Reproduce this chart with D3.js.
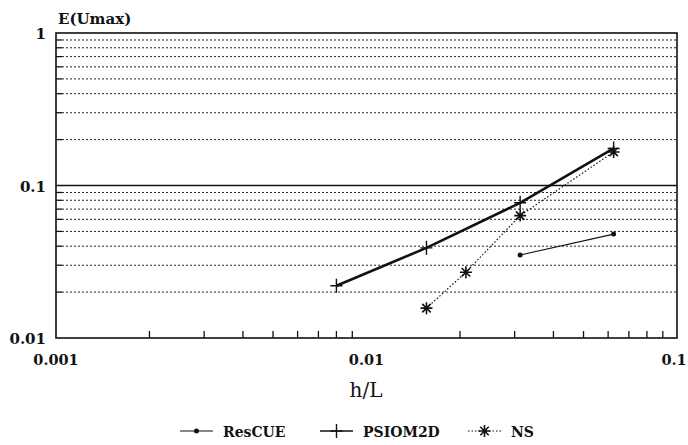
<!DOCTYPE html>
<html>
<head>
<meta charset="utf-8">
<script src="https://cdn.jsdelivr.net/npm/d3@7"></script>
<style>
  body { margin: 0; background: #fff; }
  text { font-family: "DejaVu Serif", "Liberation Serif", serif; font-weight: bold; fill: #111; }
</style>
</head>
<body>
<svg id="chart" width="688" height="445"></svg>
<script>
// values
var rescue_h = [0.03125, 0.0625];
var rescue_e = [0.035, 0.048];
var psiom_h = [0.008, 0.0156, 0.03125, 0.0625];
var psiom_e = [0.022, 0.039, 0.077, 0.175];
var ns_h = [0.0156, 0.0209, 0.03125, 0.0625];
var ns_e = [0.0157, 0.027, 0.0635, 0.166];
var x_ticks = [0.001, 0.01, 0.1];
var x_tick_labels = ["0.001", "0.01", "0.1"];
var y_ticks = [0.01, 0.1, 1];
var y_tick_labels = ["0.01", "0.1", "1"];

var svg = d3.select("#chart");
var plot_left = 56, plot_right = 677, plot_top = 33, plot_bottom = 338;

var x = d3.scaleLog().domain([0.001, 0.1]).range([plot_left, plot_right]);
var y = d3.scaleLog().domain([0.01, 1]).range([plot_bottom, plot_top]);

// minor values 2..9 in each decade
function minors(lo, hi) {
  var out = [];
  for (var d = lo; d < hi * 0.999; d *= 10) {
    for (var k = 2; k <= 9; k++) out.push(d * k);
  }
  return out;
}

var g = svg.append("g");

// dotted horizontal grid
g.selectAll(".grid")
  .data(minors(0.01, 1))
  .enter()
  .append("line")
  .attr("x1", plot_left + 6)
  .attr("x2", plot_right)
  .attr("y1", function(d){ return y(d); })
  .attr("y2", function(d){ return y(d); })
  .attr("stroke", "#222")
  .attr("stroke-width", 1)
  .attr("stroke-dasharray", "2,2");

// short ticks on the left
g.selectAll(".ytick")
  .data(minors(0.01, 1))
  .enter()
  .append("line")
  .attr("x1", plot_left)
  .attr("x2", plot_left + 6)
  .attr("y1", function(d){ return y(d); })
  .attr("y2", function(d){ return y(d); })
  .attr("stroke", "#111")
  .attr("stroke-width", 1.3);

// solid line at 0.1
g.append("line")
  .attr("x1", plot_left).attr("x2", plot_right)
  .attr("y1", y(0.1)).attr("y2", y(0.1))
  .attr("stroke", "#111")
  .attr("stroke-width", 1.4);

// x minor ticks from bottom
g.selectAll(".xtick")
  .data(minors(0.001, 0.1))
  .enter()
  .append("line")
  .attr("x1", function(d){ return x(d); })
  .attr("x2", function(d){ return x(d); })
  .attr("y1", plot_bottom)
  .attr("y2", plot_bottom - 7)
  .attr("stroke", "#111")
  .attr("stroke-width", 1.3);

// frame
g.append("rect")
  .attr("x", plot_left).attr("y", plot_top)
  .attr("width", plot_right - plot_left).attr("height", plot_bottom - plot_top)
  .attr("fill", "none")
  .attr("stroke", "#111")
  .attr("stroke-width", 1.6);

// tick labels
svg.selectAll(".ylab")
  .data(y_ticks)
  .enter()
  .append("text")
  .attr("x", plot_left - 10)
  .attr("y", function(d){ return y(d) + 6; })
  .attr("text-anchor", "end")
  .attr("font-size", 15)
  .text(function(d, i){ return y_tick_labels[i]; });

svg.selectAll(".xlab")
  .data(x_ticks)
  .enter()
  .append("text")
  .attr("x", function(d){ return Math.min(x(d), 674); })
  .attr("y", 365)
  .attr("text-anchor", "middle")
  .attr("font-size", 14.5)
  .text(function(d, i){ return x_tick_labels[i]; });

svg.append("text")
  .attr("x", 58).attr("y", 24)
  .attr("font-size", 15)
  .text("E(Umax)");

svg.append("text")
  .attr("x", 366).attr("y", 397)
  .attr("text-anchor", "middle")
  .attr("font-size", 20)
  .style("font-weight", "normal")
  .text("h/L");

// series
var line = d3.line()
  .x(function(d){ return x(d[0]); })
  .y(function(d){ return y(d[1]); });

var rescue = d3.zip(rescue_h, rescue_e);
var psiom = d3.zip(psiom_h, psiom_e);
var ns = d3.zip(ns_h, ns_e);

svg.append("path").datum(rescue).attr("d", line)
  .attr("fill", "none").attr("stroke", "#111").attr("stroke-width", 1.2);
svg.append("path").datum(psiom).attr("d", line)
  .attr("fill", "none").attr("stroke", "#111").attr("stroke-width", 2.6);
svg.append("path").datum(ns).attr("d", line)
  .attr("fill", "none").attr("stroke", "#111").attr("stroke-width", 1.2)
  .attr("stroke-dasharray", "1.5,2");

function dot(sel, cx, cy) {
  sel.append("circle").attr("cx", cx).attr("cy", cy).attr("r", 2.5).attr("fill", "#111");
}
function plus(sel, cx, cy) {
  sel.append("path")
    .attr("d", "M" + (cx - 6) + "," + cy + "H" + (cx + 6) + "M" + cx + "," + (cy - 7) + "V" + (cy + 7))
    .attr("stroke", "#111").attr("stroke-width", 1.4);
}
function star(sel, cx, cy) {
  var r = 6, p = "";
  [0, 45, 90, 135].forEach(function(a){
    var t = a * Math.PI / 180;
    p += "M" + (cx - r * Math.cos(t)) + "," + (cy - r * Math.sin(t)) +
         "L" + (cx + r * Math.cos(t)) + "," + (cy + r * Math.sin(t));
  });
  sel.append("path").attr("d", p).attr("stroke", "#111").attr("stroke-width", 1.6);
}

rescue.forEach(function(d){ dot(svg, x(d[0]), y(d[1])); });
psiom.forEach(function(d){ plus(svg, x(d[0]), y(d[1])); });
ns.forEach(function(d){ star(svg, x(d[0]), y(d[1])); });

// legend
var legend = [
  { name: "ResCUE", x: 180, mark: dot, width: 1.2, dash: null },
  { name: "PSIOM2D", x: 320, mark: plus, width: 1.6, dash: null },
  { name: "NS", x: 468, mark: star, width: 1.1, dash: "1.5,2" }
];
var ly = 431;
legend.forEach(function(d){
  var lg = svg.append("g");
  lg.append("line")
    .attr("x1", d.x).attr("x2", d.x + 33)
    .attr("y1", ly).attr("y2", ly)
    .attr("stroke", "#111").attr("stroke-width", d.width)
    .attr("stroke-dasharray", d.dash);
  d.mark(lg, d.x + 16.5, ly);
  lg.append("text")
    .attr("x", d.x + 43).attr("y", ly + 6)
    .attr("font-size", 14)
    .text(d.name);
});
</script>
</body>
</html>
